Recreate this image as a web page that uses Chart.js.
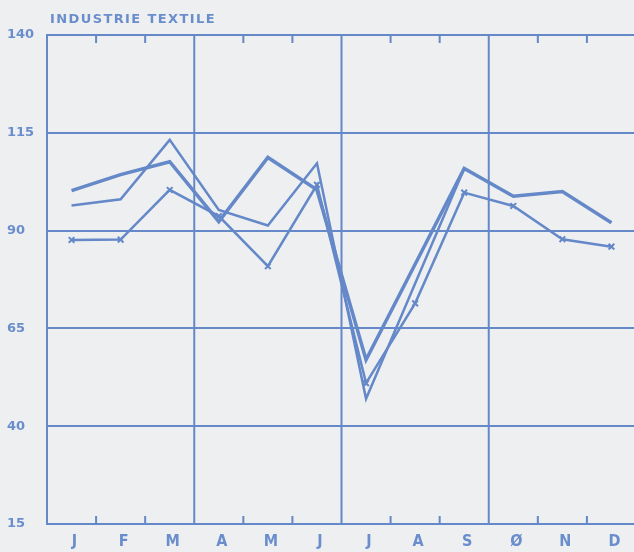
<!DOCTYPE html>
<html>
<head>
<meta charset="utf-8">
<script src="https://cdn.jsdelivr.net/npm/chart.js@4/dist/chart.umd.min.js"></script>
<style>
  html, body { margin: 0; padding: 0; background: #edeff1; overflow: hidden; }
  canvas { display: block; }
</style>
</head>
<body>
<canvas id="textile" width="642" height="552"></canvas>
<script>
// month labels (the plotter draws October as a slashed O)
const months = ['J', 'F', 'M', 'A', 'M', 'J', 'J', 'A', 'S', 'Ø', 'N', 'D'];
const yTicks = [15, 40, 65, 90, 115, 140];

// values
const seriesThick = [100.2, 104.3, 107.6, 92.3, 108.7, 100.4, 57.0, 81.4, 105.9, 98.8, 100.0, 92.0];
const seriesThin = [96.4, 98.0, 113.2, 95.3, 91.3, 107.2, 47.0, 76.5, 105.9, null, null, null];
const seriesCross = [87.6, 87.7, 100.4, 93.7, 80.9, 101.7, 51.0, 71.4, 99.7, 96.3, 87.8, 85.9];

const blue = '#6488c8';
const inkText = '#6a8dcc';

// quarter lines full height, month boundaries as short ticks top and bottom
const frame = {
    id: 'frame',
    beforeDatasetsDraw(chart) {
        const { ctx, chartArea: a, scales: { x } } = chart;
        ctx.save();
        ctx.strokeStyle = blue;
        ctx.lineWidth = 2;
        for (let i = 1; i < months.length; i++) {
            const px = x.getPixelForValue(i - 0.5);
            ctx.beginPath();
            if (i % 3 === 0) {
                ctx.moveTo(px, a.top);
                ctx.lineTo(px, a.bottom);
            } else {
                ctx.moveTo(px, a.top);
                ctx.lineTo(px, a.top + 8);
                ctx.moveTo(px, a.bottom);
                ctx.lineTo(px, a.bottom - 8);
            }
            ctx.stroke();
        }
        ctx.restore();
    },
    afterDraw(chart) {
        const { ctx, chartArea: a } = chart;
        ctx.save();
        ctx.fillStyle = inkText;
        ctx.font = 'bold 13px "DejaVu Sans"';
        ctx.letterSpacing = '1.4px';
        ctx.textBaseline = 'middle';
        ctx.fillText('INDUSTRIE TEXTILE', a.left + 3, 20);
        ctx.restore();
    }
};

const ctx = document.getElementById('textile').getContext('2d');
const chart = new Chart(ctx, {
    type: 'line',
    data: {
        labels: months,
        datasets: [{
            data: seriesThick,
            borderColor: blue,
            borderWidth: 3.5,
            pointRadius: 0,
            tension: 0
        }, {
            data: seriesThin,
            borderColor: blue,
            borderWidth: 2.5,
            pointRadius: 0,
            tension: 0
        }, {
            data: seriesCross,
            borderColor: blue,
            borderWidth: 2.5,
            pointStyle: 'crossRot',
            pointRadius: 4,
            pointBorderWidth: 2,
            pointBorderColor: blue,
            tension: 0
        }]
    },
    options: {
        responsive: false,
        animation: false,
        layout: { padding: { top: 35, left: 7, right: 0, bottom: 0 } },
        plugins: {
            legend: { display: false },
            tooltip: { enabled: false }
        },
        scales: {
            x: {
                offset: true,
                grid: { display: false, drawTicks: false },
                border: { display: false },
                ticks: {
                    color: inkText,
                    font: { family: '"DejaVu Sans Condensed", "DejaVu Sans"', size: 16, weight: 'bold' },
                    padding: 8,
                    labelOffset: 3,
                    maxRotation: 0,
                    autoSkip: false
                },
                afterFit(scale) { scale.height = 28; }
            },
            y: {
                min: 15,
                max: 140,
                afterBuildTicks(scale) {
                    scale.ticks = yTicks.map(v => ({ value: v }));
                },
                grid: { color: blue, lineWidth: 2, drawTicks: false },
                border: { display: true, color: blue, width: 2 },
                ticks: {
                    color: inkText,
                    font: { family: '"DejaVu Sans"', size: 13, weight: 'bold' },
                    crossAlign: 'far',
                    padding: 0
                },
                afterFit(scale) { scale.width = 40; }
            }
        }
    },
    plugins: [frame]
});
</script>
</body>
</html>
